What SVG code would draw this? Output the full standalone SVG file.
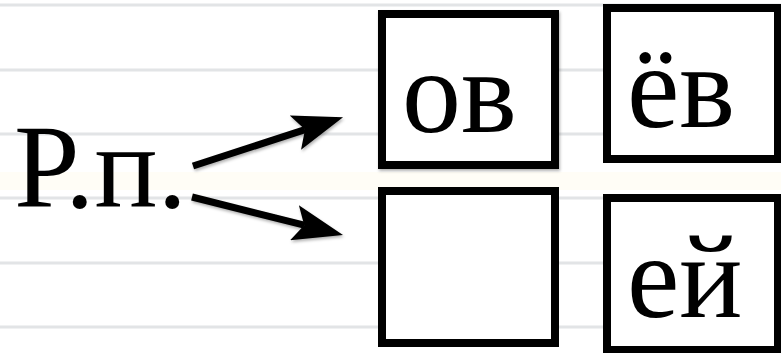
<svg xmlns="http://www.w3.org/2000/svg" width="781" height="353" viewBox="0 0 781 353">
  <defs>
    <style>
      .rule { stroke: #e2e4e6; stroke-width: 3; }
      .box { fill: #ffffff; stroke: #000000; stroke-width: 8; }
      .lbl { font-family: 'Liberation Serif', 'Times New Roman', serif; font-size: 118px; fill: #000000; }
      .arrow { stroke: #000000; stroke-width: 7; fill: none; }
    </style>
    <filter id="sh" filterUnits="userSpaceOnUse" x="0" y="0" width="781" height="353">
      <feDropShadow dx="1" dy="2" stdDeviation="1.5" flood-color="#000000" flood-opacity="0.3"/>
    </filter>
    <marker id="head" markerUnits="userSpaceOnUse" viewBox="0 0 50 36" refX="10" refY="18" markerWidth="50" markerHeight="36" orient="auto">
      <path d="M0,0 L50,18 L0,36 L10,18 z" fill="#000000"/>
    </marker>
  </defs>
  <rect x="0" y="0" width="781" height="353" fill="#ffffff"/>
  <rect x="0" y="172" width="781" height="18" fill="#fffdf6"/>
  <g id="rules">
    <line class="rule" x1="0" y1="5" x2="781" y2="5"/>
    <line class="rule" x1="0" y1="70" x2="781" y2="70"/>
    <line class="rule" x1="0" y1="134" x2="781" y2="134"/>
    <line class="rule" x1="0" y1="198" x2="781" y2="198"/>
    <line class="rule" x1="0" y1="263" x2="781" y2="263"/>
    <line class="rule" x1="0" y1="327" x2="781" y2="327"/>
  </g>
  <g id="rp">
    <text class="lbl" x="14" y="207">Р.п.</text>
  </g>
  <g id="connectors" filter="url(#sh)">
    <line class="arrow" x1="193" y1="166" x2="305" y2="129.6" marker-end="url(#head)"/>
    <line class="arrow" x1="192" y1="197" x2="304.2" y2="225.2" marker-end="url(#head)"/>
  </g>
  <g id="box-ov">
    <rect class="box" x="382" y="14" width="173" height="151" filter="url(#sh)"/>
    <text class="lbl" x="402" y="132">ов</text>
  </g>
  <g id="box-yov">
    <rect class="box" x="607" y="8" width="171" height="151"/>
    <text class="lbl" x="627" y="127">ёв</text>
  </g>
  <g id="box-empty">
    <rect class="box" x="382" y="191" width="173" height="152"/>
  </g>
  <g id="box-ey">
    <rect class="box" x="607" y="198" width="171" height="152"/>
    <text class="lbl" x="627" y="317">ей</text>
  </g>
</svg>
